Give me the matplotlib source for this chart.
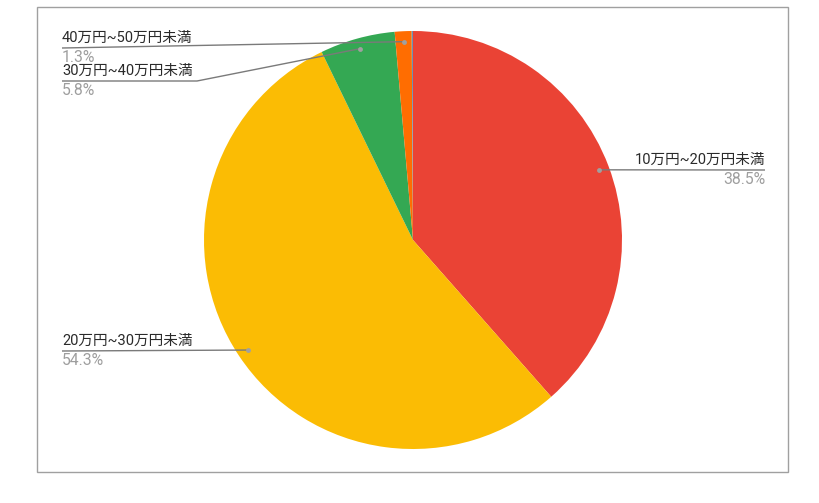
import numpy as np
import matplotlib
matplotlib.use("Agg")
import matplotlib.pyplot as plt
from matplotlib.patches import Rectangle

plt.rcParams['font.family'] = ['Roboto', 'Noto Sans CJK JP', 'DejaVu Sans']

labels = ["10万円~20万円未満", "20万円~30万円未満", "30万円~40万円未満", "40万円~50万円未満", ""]
values = [38.5, 54.3, 5.8, 1.3, 0.1]
pct_labels = ["38.5%", "54.3%", "5.8%", "1.3%", ""]
colors = ["#ea4335", "#fbbc04", "#34a853", "#ff6d01", "#6a93b5"]

W, H = 819, 503
fig = plt.figure(figsize=(W / 100, H / 100), dpi=100)
ax = fig.add_axes([0, 0, 1, 1])
ax.set_xlim(0, W)
ax.set_ylim(0, H)
ax.set_aspect('equal')
ax.axis('off')

# outer frame
ax.add_patch(Rectangle((37, H - 472), 751, 465, fill=False, ec="#a0a0a0", lw=1.0))

cx, cy, r = 413, H - 240, 209
wedges, _ = ax.pie(values, colors=colors, startangle=90, counterclock=False,
                   center=(cx, cy), radius=r, wedgeprops=dict(linewidth=0),
                   frame=True)
ax.set_xlim(0, W)
ax.set_ylim(0, H)
ax.axis('off')

# dots at mid angle of each slice
cum = np.cumsum([0] + values)
total = sum(values)
mids = (cum[:-1] + cum[1:]) / 2 / total * 2 * np.pi
dots = [(cx + 0.95 * r * np.sin(a), cy + 0.95 * r * np.cos(a)) for a in mids]

line_c = "#7a7a7a"
txt_c = "#2a2a2a"
pct_c = "#9e9e9e"
fs = 10.5

# (leader path after the dot, text x, line y, align)
leaders = {
    0: ([(765, H - 170)], 765, H - 170, 'right'),
    1: ([(62, H - 351)], 62, H - 351, 'left'),
    2: ([(197, H - 81), (62, H - 81)], 62, H - 81, 'left'),
    3: ([(62, H - 48)], 62, H - 48, 'left'),
}

for i, (path, tx, ly, ha) in leaders.items():
    pts = [dots[i]] + path
    xs = [p[0] for p in pts]
    ys = [p[1] for p in pts]
    ax.plot(xs, ys, color=line_c, lw=1.0, solid_capstyle='butt')
    ax.plot(*dots[i], 'o', ms=3.5, color="#a0a0a0", mec='none')
    ax.text(tx, ly + 3, labels[i], ha=ha, va='bottom', fontsize=fs, color=txt_c)
    ax.text(tx, ly - 2, pct_labels[i], ha=ha, va='top', fontsize=11.3, color=pct_c)

fig.savefig("out.png", dpi=100)
